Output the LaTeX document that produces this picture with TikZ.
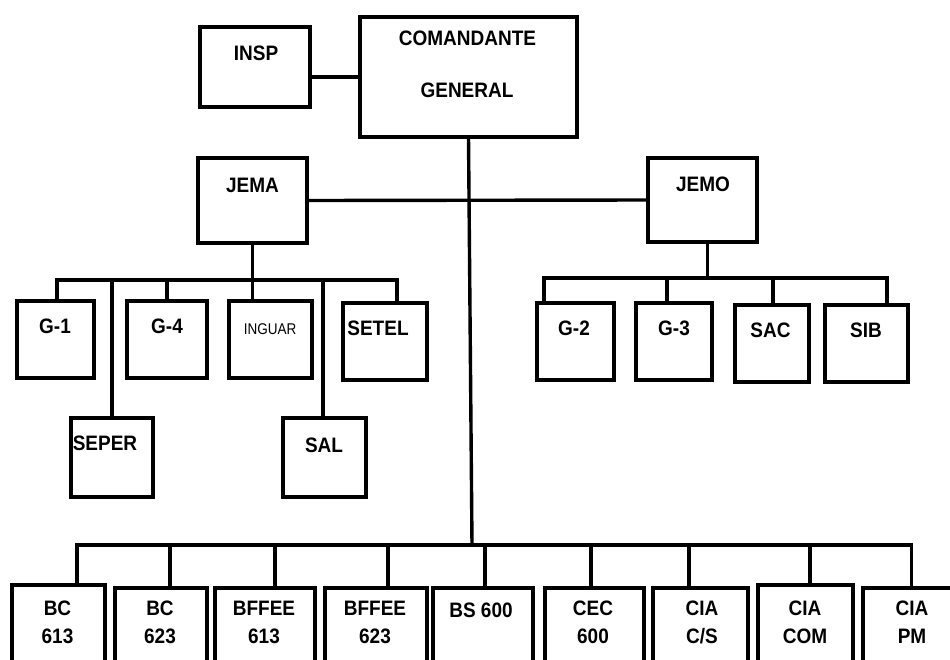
\documentclass[tikz,border=0pt]{standalone}
\usepackage{fontspec}
\usepackage{graphicx}
\setmainfont{Liberation Sans}
\newcommand\tx[1]{\scalebox{1}[1.1]{\begin{tabular}{@{}c@{}}#1\end{tabular}}}
\tikzset{
  box/.style={draw, line width=4pt, inner sep=0pt, outer sep=0pt},
  conn/.style={line width=3.4pt, line cap=rect},
  lbl/.style={font=\fontsize{19}{25.5}\selectfont\bfseries, inner sep=0pt},
  smalllbl/.style={font=\fontsize{13.5}{15}\selectfont, inner sep=0pt},
}
\newcommand\mybox[5]{\node[box, minimum width={#4-#2}, minimum height={#5-#3}] (#1) at ({(#2+#4)/2},{(#3+#5)/2}) {};}
\begin{document}
\begin{tikzpicture}[x=1pt,y=-1pt]
\useasboundingbox (0,0) rectangle (950,659);
\clip (0,0) rectangle (950,659);
% boxes
\mybox{insp}{200}{27}{310}{107}
\mybox{cg}{360}{17}{577}{137}
\mybox{jema}{198}{158}{307}{243}
\mybox{jemo}{648}{158}{757}{242}
\mybox{g1}{17}{301}{94}{378}
\mybox{g4}{127}{301}{207}{378}
\mybox{inguar}{229}{301}{312}{378}
\mybox{setel}{343}{303}{427}{380}
\mybox{seper}{71}{418}{153}{497}
\mybox{sal}{283}{418}{366}{497}
\mybox{g2}{537}{303}{614}{380}
\mybox{g3}{636}{303}{712}{380}
\mybox{sac}{735}{305}{809}{382}
\mybox{sib}{825}{305}{908}{382}
\mybox{bc613}{12}{585}{105}{700}
\mybox{bc623}{115}{588}{207}{700}
\mybox{bf613}{215}{588}{315}{700}
\mybox{bf623}{325}{588}{427}{700}
\mybox{bs600}{433}{588}{533}{700}
\mybox{cec600}{545}{588}{644}{700}
\mybox{ciacs}{653}{588}{748}{700}
\mybox{ciacom}{758}{585}{853}{700}
\mybox{ciapm}{863}{588}{960}{700}
% labels
\node[lbl] (t-insp) at (256,55) {\tx{INSP}};
\node[lbl] (t-cg1) at (467.5,40) {\tx{COMANDANTE}};
\node[lbl] (t-cg2) at (467,92) {\tx{GENERAL}};
\node[lbl] (t-jema) at (252.5,187) {\tx{JEMA}};
\node[lbl] (t-jemo) at (703,186) {\tx{JEMO}};
\node[lbl] (t-g1) at (55,328) {\tx{G-1}};
\node[lbl] (t-g4) at (167,328) {\tx{G-4}};
\node[smalllbl] (t-inguar) at (270,329) {\scalebox{1}[1.15]{INGUAR}};
\node[lbl] (t-setel) at (378,330) {\tx{SETEL}};
\node[lbl] (t-seper) at (105,445) {\tx{SEPER}};
\node[lbl] (t-sal) at (324,447) {\tx{SAL}};
\node[lbl] (t-g2) at (574,330) {\tx{G-2}};
\node[lbl] (t-g3) at (674,330) {\tx{G-3}};
\node[lbl] (t-sac) at (770.5,332) {\tx{SAC}};
\node[lbl] (t-sib) at (866,332) {\tx{SIB}};
\node[lbl] (t-bc613) at (57.5,624) {\tx{BC\\613}};
\node[lbl] (t-bc623) at (160,624) {\tx{BC\\623}};
\node[lbl] (t-bf613) at (264,624) {\tx{BFFEE\\613}};
\node[lbl] (t-bf623) at (375,624) {\tx{BFFEE\\623}};
\node[lbl] (t-bs600) at (481,612) {\tx{BS 600}};
\node[lbl] (t-cec600) at (593,624) {\tx{CEC\\600}};
\node[lbl] (t-ciacs) at (702,624) {\tx{CIA\\C/S}};
\node[lbl] (t-ciacom) at (805,624) {\tx{CIA\\COM}};
\node[lbl] (t-ciapm) at (912,624) {\tx{CIA\\PM}};
% bus coordinates
\coordinate (lbus) at (0,280);
\coordinate (rbus) at (0,278);
\coordinate (bbus) at (0,545);
\coordinate (bjoin) at (472,545);
% top connectors
\draw[conn] ([yshift=-10pt]insp.east) -- (cg.west |- 0,77);
\draw[conn] (cg.south) -- (bjoin);
\draw[conn] (jema.east) -- (jemo.west);
% JEMA group
\draw[conn] (jema.south) -- (jema.south |- inguar.north);
\draw[conn] ([xshift=1.5pt]g1.north |- lbus) -- ([xshift=12pt]setel.north |- lbus);
\draw[conn] ([xshift=1.5pt]g1.north) -- ([xshift=1.5pt]g1.north |- lbus);
\draw[conn] (seper.north) -- (seper.north |- lbus);
\draw[conn] (g4.north) -- (g4.north |- lbus);
\draw[conn] ([xshift=-1.5pt]sal.north) -- ([xshift=-1.5pt]sal.north |- lbus);
\draw[conn] ([xshift=12pt]setel.north) -- ([xshift=12pt]setel.north |- lbus);
% JEMO group
\draw[conn] ([xshift=5pt]jemo.south) -- ([xshift=5pt]jemo.south |- rbus);
\draw[conn] ([xshift=-31.5pt]g2.north |- rbus) -- ([xshift=20.5pt]sib.north |- rbus);
\draw[conn] ([xshift=-31.5pt]g2.north) -- ([xshift=-31.5pt]g2.north |- rbus);
\draw[conn] ([xshift=-7pt]g3.north) -- ([xshift=-7pt]g3.north |- rbus);
\draw[conn] ([xshift=1pt]sac.north) -- ([xshift=1pt]sac.north |- rbus);
\draw[conn] ([xshift=20.5pt]sib.north) -- ([xshift=20.5pt]sib.north |- rbus);
% bottom group
\draw[conn] ([xshift=18.5pt]bc613.north |- bbus) -- (ciapm.north |- bbus);
\draw[conn] ([xshift=18.5pt]bc613.north) -- ([xshift=18.5pt]bc613.north |- bbus);
\draw[conn] ([xshift=9pt]bc623.north) -- ([xshift=9pt]bc623.north |- bbus);
\draw[conn] ([xshift=10pt]bf613.north) -- ([xshift=10pt]bf613.north |- bbus);
\draw[conn] ([xshift=12pt]bf623.north) -- ([xshift=12pt]bf623.north |- bbus);
\draw[conn] ([xshift=2pt]bs600.north) -- ([xshift=2pt]bs600.north |- bbus);
\draw[conn] ([xshift=-3.5pt]cec600.north) -- ([xshift=-3.5pt]cec600.north |- bbus);
\draw[conn] ([xshift=-11.5pt]ciacs.north) -- ([xshift=-11.5pt]ciacs.north |- bbus);
\draw[conn] ([xshift=4.5pt]ciacom.north) -- ([xshift=4.5pt]ciacom.north |- bbus);
\draw[conn] (ciapm.north) -- (ciapm.north |- bbus);
\end{tikzpicture}
\end{document}
